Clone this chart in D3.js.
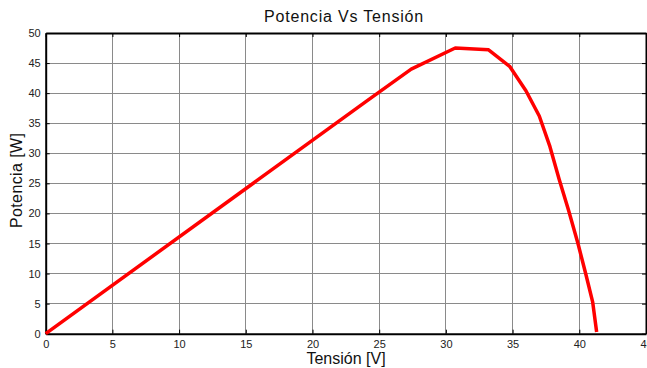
<!DOCTYPE html>
<html><head><meta charset="utf-8">
<script src="https://cdn.jsdelivr.net/npm/d3@7"></script>
<style>body{margin:0;background:#fff;overflow:hidden}svg{display:block}</style>
</head><body>
<script>
const tension = [0, 24.0, 27.4, 30.7, 33.2, 34.8, 36.0, 37.0, 37.8, 38.5, 39.2, 39.9, 40.5, 41.0, 41.3];
const potencia = [0, 38.6, 44.0, 47.5, 47.2, 44.4, 40.4, 36.2, 31.1, 25.6, 20.5, 15.0, 9.8, 5.3, 0.3];
const xTicks = [0, 5, 10, 15, 20, 25, 30, 35, 40, 45];
const yTicks = [0, 5, 10, 15, 20, 25, 30, 35, 40, 45, 50];
const title = "Potencia Vs Tensión";
const xLabel = "Tensión [V]";
const yLabel = "Potencia [W]";

const W = 647, H = 368;
const m = {left: 45.7, right: 646, top: 33, bottom: 333.7};
const svg = d3.select("body").append("svg").attr("width", W).attr("height", H);
const x = d3.scaleLinear().domain([0, 45]).range([m.left, m.right]);
const y = d3.scaleLinear().domain([0, 50]).range([m.bottom, m.top]);
const font = "Liberation Sans, Arial, sans-serif";

// grid
const g = svg.append("g");
g.selectAll("line.vx").data(xTicks.slice(1, -1)).enter().append("line")
  .attr("x1", d => x(d)).attr("x2", d => x(d)).attr("y1", m.top).attr("y2", m.bottom)
  .attr("stroke", "#8a8a8a").attr("stroke-width", 1).attr("shape-rendering", "crispEdges");
g.selectAll("line.hy").data(yTicks.slice(1, -1)).enter().append("line")
  .attr("y1", d => y(d)).attr("y2", d => y(d)).attr("x1", m.left).attr("x2", m.right)
  .attr("stroke", "#8a8a8a").attr("stroke-width", 1).attr("shape-rendering", "crispEdges");

// axes
const axB = svg.append("g").attr("transform", `translate(0,${m.bottom})`)
  .call(d3.axisBottom(x).tickValues(xTicks).tickSize(-4).tickPadding(7).tickSizeOuter(0));
const axL = svg.append("g").attr("transform", `translate(${m.left},0)`)
  .call(d3.axisLeft(y).tickValues(yTicks).tickSize(-4).tickPadding(5).tickSizeOuter(0));
const axT = svg.append("g").attr("transform", `translate(0,${m.top})`)
  .call(d3.axisTop(x).tickValues(xTicks).tickSize(-4).tickFormat("").tickSizeOuter(0));
const axR = svg.append("g").attr("transform", `translate(${m.right},0)`)
  .call(d3.axisRight(y).tickValues(yTicks).tickSize(-4).tickFormat("").tickSizeOuter(0));
[axB, axL, axT, axR].forEach(a => {
  a.select(".domain").attr("stroke", "#000").attr("stroke-width", 2);
  a.selectAll(".tick line").attr("stroke", "#000").attr("stroke-width", 1);
  a.selectAll("text").attr("font-family", font).attr("font-size", 11).attr("fill", "#222");
});

// line
const line = d3.line().x((d, i) => x(tension[i])).y(d => y(d));
svg.append("path").datum(potencia).attr("d", line)
  .attr("fill", "none").attr("stroke", "#ff0000").attr("stroke-width", 3.5)
  .attr("stroke-linejoin", "round");

// texts
svg.append("text").attr("x", 344).attr("y", 22).attr("text-anchor", "middle")
  .attr("font-family", font).attr("font-size", 16).attr("letter-spacing", 0.8)
  .attr("fill", "#111").text(title);
svg.append("text").attr("x", 346).attr("y", 364).attr("text-anchor", "middle")
  .attr("font-family", font).attr("font-size", 16).attr("fill", "#111").text(xLabel);
svg.append("text").attr("transform", `translate(22,${(m.top + m.bottom) / 2 - 3}) rotate(-90)`)
  .attr("text-anchor", "middle").attr("letter-spacing", 0.4)
  .attr("font-family", font).attr("font-size", 16).attr("fill", "#111").text(yLabel);
</script>
</body></html>
